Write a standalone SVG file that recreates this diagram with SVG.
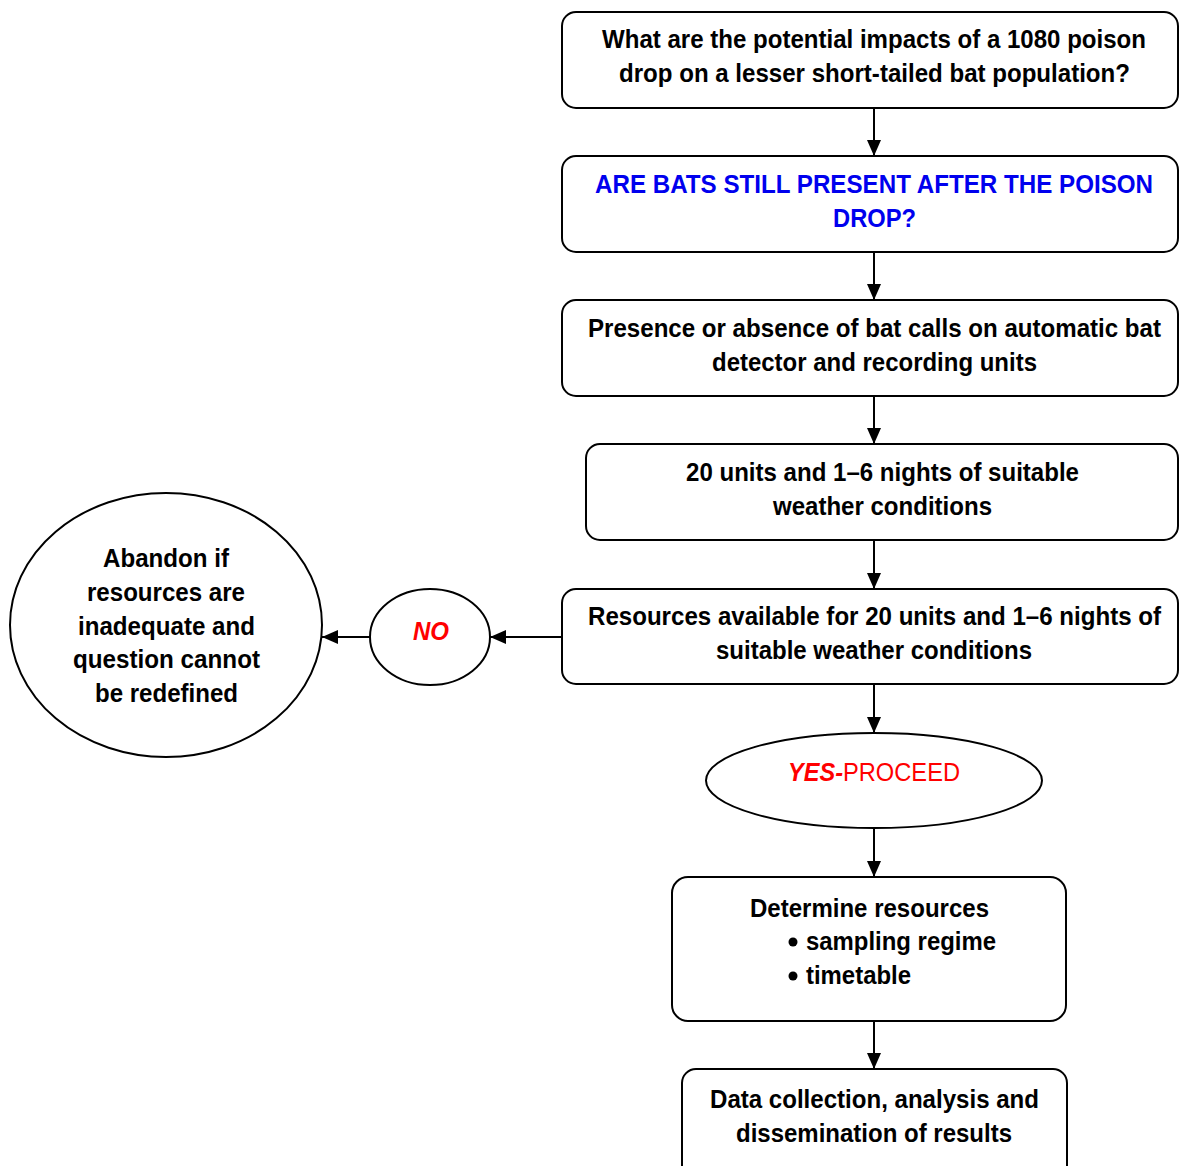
<svg xmlns="http://www.w3.org/2000/svg" width="1179" height="1166" viewBox="0 0 1179 1166">
<defs>
<marker id="ah" viewBox="0 0 16 14" refX="16" refY="7" markerWidth="16" markerHeight="14" markerUnits="userSpaceOnUse" orient="auto">
<path d="M0,0 L16,7 L0,14 z" fill="#000"/>
</marker>
<style>
.box{fill:#fff;stroke:#000;stroke-width:2}
.t{font-family:"Liberation Sans",Arial,sans-serif;font-weight:bold;font-size:26px;fill:#000}
.blue{fill:#0000ee}
.red{fill:#ff0000}
.conn{stroke:#000;stroke-width:2;fill:none;marker-end:url(#ah)}
</style>
</defs>
<rect width="1179" height="1166" fill="#fff"/>
<g id="connectors">
<line class="conn" x1="874" y1="108" x2="874" y2="156"/>
<line class="conn" x1="874" y1="252" x2="874" y2="300"/>
<line class="conn" x1="874" y1="396" x2="874" y2="444"/>
<line class="conn" x1="874" y1="540" x2="874" y2="589"/>
<line class="conn" x1="874" y1="684" x2="874" y2="733"/>
<line class="conn" x1="874" y1="828" x2="874" y2="877"/>
<line class="conn" x1="874" y1="1021" x2="874" y2="1069"/>
<line class="conn" x1="562" y1="637" x2="490" y2="637"/>
<line class="conn" x1="370" y1="637" x2="322" y2="637"/>
</g>
<g id="n1">
<rect class="box" x="562" y="12" width="616" height="96" rx="14"/>
<text class="t" x="602" y="48" textLength="544" lengthAdjust="spacingAndGlyphs">What are the potential impacts of a 1080 poison</text>
<text class="t" x="619" y="82" textLength="511" lengthAdjust="spacingAndGlyphs">drop on a lesser short-tailed bat population?</text>
</g>
<g id="n2">
<rect class="box" x="562" y="156" width="616" height="96" rx="14"/>
<text class="t blue" x="595" y="193" textLength="558" lengthAdjust="spacingAndGlyphs">ARE BATS STILL PRESENT AFTER THE POISON</text>
<text class="t blue" x="833" y="227" textLength="83" lengthAdjust="spacingAndGlyphs">DROP?</text>
</g>
<g id="n3">
<rect class="box" x="562" y="300" width="616" height="96" rx="14"/>
<text class="t" x="588" y="337" textLength="573" lengthAdjust="spacingAndGlyphs">Presence or absence of bat calls on automatic bat</text>
<text class="t" x="712" y="371" textLength="325" lengthAdjust="spacingAndGlyphs">detector and recording units</text>
</g>
<g id="n4">
<rect class="box" x="586" y="444" width="592" height="96" rx="14"/>
<text class="t" x="686" y="481" textLength="393" lengthAdjust="spacingAndGlyphs">20 units and 1–6 nights of suitable</text>
<text class="t" x="773" y="515" textLength="219" lengthAdjust="spacingAndGlyphs">weather conditions</text>
</g>
<g id="n5">
<rect class="box" x="562" y="589" width="616" height="95" rx="14"/>
<text class="t" x="588" y="625" textLength="573" lengthAdjust="spacingAndGlyphs">Resources available for 20 units and 1–6 nights of</text>
<text class="t" x="716" y="659" textLength="316" lengthAdjust="spacingAndGlyphs">suitable weather conditions</text>
</g>
<g id="n6">
<ellipse class="box" cx="874" cy="780.5" rx="168" ry="47.5"/>
<text class="t red" y="781"><tspan x="788" font-style="italic" textLength="55" lengthAdjust="spacingAndGlyphs">YES-</tspan><tspan x="843" font-weight="normal" textLength="117" lengthAdjust="spacingAndGlyphs">PROCEED</tspan></text>
</g>
<g id="n7">
<rect class="box" x="672" y="877" width="394" height="144" rx="16"/>
<text class="t" x="750" y="917" textLength="239" lengthAdjust="spacingAndGlyphs">Determine resources</text>
<circle cx="793" cy="942" r="4.5" fill="#000"/>
<text class="t" x="806" y="950" textLength="190" lengthAdjust="spacingAndGlyphs">sampling regime</text>
<circle cx="793" cy="976" r="4.5" fill="#000"/>
<text class="t" x="806" y="984" textLength="105" lengthAdjust="spacingAndGlyphs">timetable</text>
</g>
<g id="n8">
<rect class="box" x="682" y="1069" width="385" height="110" rx="14"/>
<text class="t" x="710" y="1108" textLength="329" lengthAdjust="spacingAndGlyphs">Data collection, analysis and</text>
<text class="t" x="736" y="1142" textLength="276" lengthAdjust="spacingAndGlyphs">dissemination of results</text>
</g>
<g id="n9">
<ellipse class="box" cx="430" cy="637" rx="60" ry="48"/>
<text class="t red" x="413" y="640" font-style="italic" textLength="36" lengthAdjust="spacingAndGlyphs">NO</text>
</g>
<g id="n10">
<ellipse class="box" cx="166" cy="625" rx="156" ry="132"/>
<text class="t" x="103" y="567" textLength="126" lengthAdjust="spacingAndGlyphs">Abandon if</text>
<text class="t" x="87" y="601" textLength="158" lengthAdjust="spacingAndGlyphs">resources are</text>
<text class="t" x="78" y="635" textLength="177" lengthAdjust="spacingAndGlyphs">inadequate and</text>
<text class="t" x="73" y="668" textLength="187" lengthAdjust="spacingAndGlyphs">question cannot</text>
<text class="t" x="95" y="702" textLength="143" lengthAdjust="spacingAndGlyphs">be redefined</text>
</g>
</svg>
